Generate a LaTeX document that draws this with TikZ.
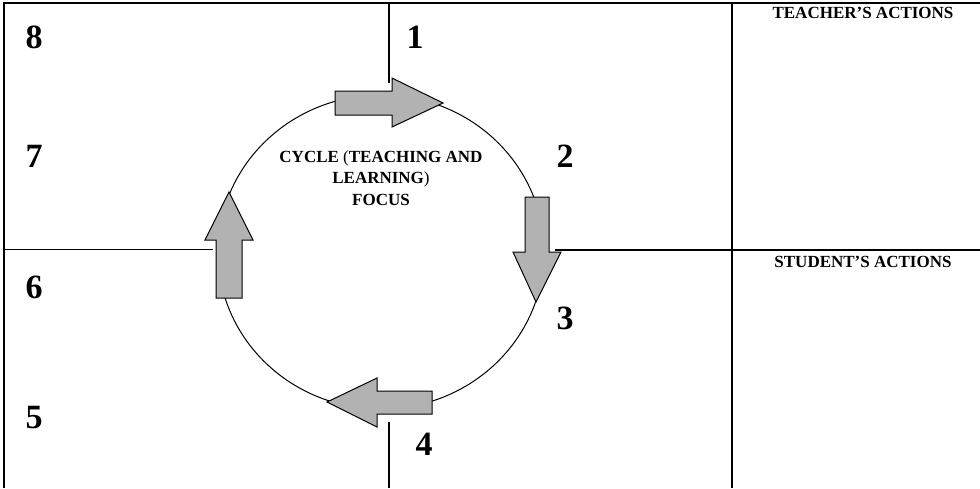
\documentclass[tikz,border=0pt]{standalone}
\usepackage{fontspec}
\setmainfont{Liberation Serif}
\begin{document}
\begin{tikzpicture}[x=1pt,y=-1pt,
  frame/.style={line width=2pt},
  rule/.style={line width=1.5pt},
  blockarrow/.style={draw=black,line width=1pt,fill=black!30,line join=miter},
  stagenum/.style={font=\fontsize{34}{40}\selectfont\bfseries,inner sep=0pt,anchor=base},
  caption/.style={font=\fontsize{17}{21.5}\selectfont\bfseries,inner sep=0pt,anchor=base}]
  \useasboundingbox (0,0) rectangle (980,488);

  % outer frame (top and left only) and the grid rules
  \draw[frame] (3.5,488) -- (3.5,3) -- (980,3);
  \draw[rule] (732,3) -- (732,488);
  \draw[rule] (3.5,249.5) -- (213,249.5);
  \draw[rule] (555,250) -- (980,250);
  \draw[line width=1.2pt] (389,3) -- (389,83);
  \draw[line width=1.2pt] (389,422) -- (389,488);

  % the cycle
  \draw[line width=1pt] (381,252) ellipse [x radius=163, y radius=157];

  % block arrows around the cycle
  \draw[blockarrow] (335,91) -- (392,91) -- (392,78) -- (443,103) -- (392,127) -- (392,115) -- (335,115) -- cycle;
  \draw[blockarrow] (525,197) -- (549,197) -- (549,252) -- (561,252) -- (536,302) -- (513,252) -- (525,252) -- cycle;
  \draw[blockarrow] (432,391) -- (377,391) -- (377,378) -- (327,402) -- (377,427) -- (377,414) -- (432,414) -- cycle;
  \draw[blockarrow] (216,298) -- (216,240) -- (205,240) -- (229,192) -- (253,240) -- (242,240) -- (242,298) -- cycle;

  % stage numbers
  \node[stagenum] (n1) at (415,48) {1};
  \node[stagenum] (n2) at (565,167) {2};
  \node[stagenum] (n3) at (565,329) {3};
  \node[stagenum] (n4) at (424,455) {4};
  \node[stagenum] (n5) at (34,428) {5};
  \node[stagenum] (n6) at (34,298) {6};
  \node[stagenum] (n7) at (34,167) {7};
  \node[stagenum] (n8) at (34,48) {8};

  % central caption
  \node[caption] (c1) at (381,162) {CYCLE \textmd{(}TEACHING AND};
  \node[caption] (c2) at (381,183) {LEARNING\textmd{)}};
  \node[caption] (c3) at (381,205) {FOCUS};

  % column headings
  \node[caption] (teacher) at (863,18) {TEACHER’S ACTIONS};
  \node[caption] (student) at (863,267) {STUDENT’S ACTIONS};
\end{tikzpicture}
\end{document}
